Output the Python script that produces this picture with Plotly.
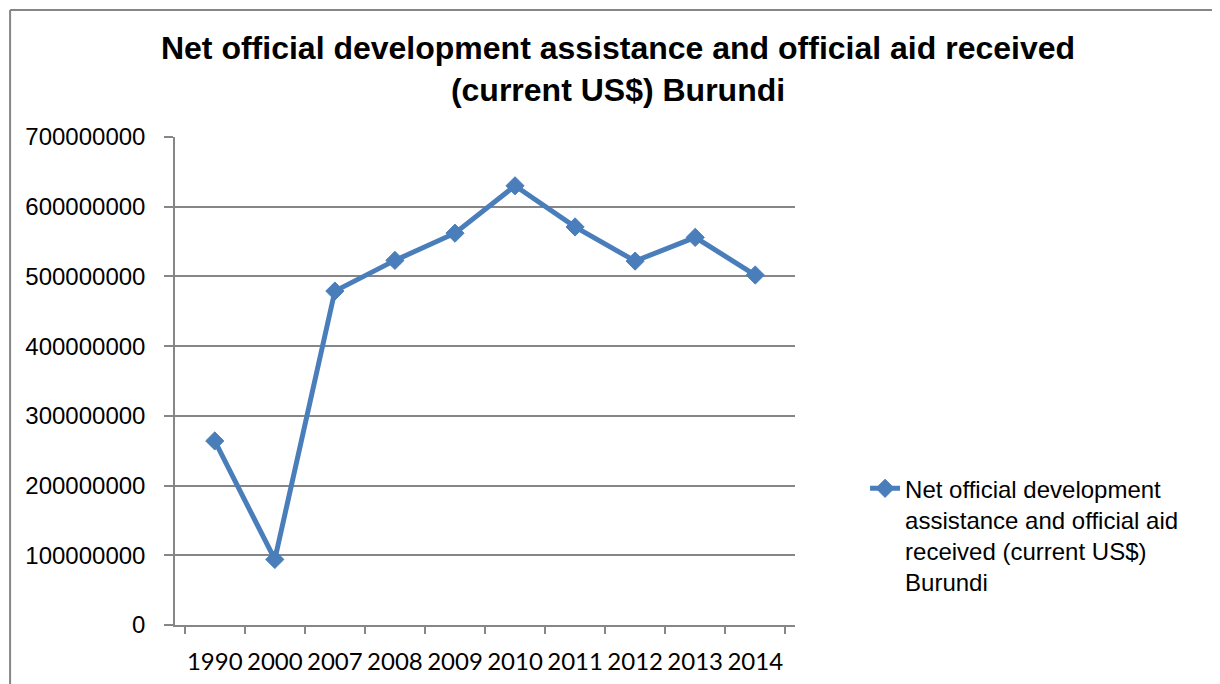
import plotly.graph_objects as go

years = ["1990", "2000", "2007", "2008", "2009", "2010", "2011", "2012", "2013", "2014"]
aid_usd = [264e6, 94e6, 479e6, 523e6, 562e6, 630e6, 571e6, 522e6, 556e6, 502e6]
series_name = "Net official development<br>assistance and official aid<br>received (current US$)<br>Burundi"
title_text = "<b>Net official development assistance and official aid received<br>(current US$) Burundi</b>"

BLUE = "#4A7EBB"
GREY = "#868686"

W, H = 1212, 676

fig = go.Figure()
fig.add_trace(go.Scatter(
    x=years, y=aid_usd, mode="lines+markers", name=series_name,
    line=dict(color=BLUE, width=5),
    marker=dict(symbol="diamond", size=14, color=BLUE, line=dict(color=BLUE, width=1)),
))

fig.update_layout(
    width=W, height=H,
    margin=dict(l=167, r=W - 787, t=129, b=H - 617, autoexpand=False),
    paper_bgcolor="white", plot_bgcolor="white",
    showlegend=True,
    title=dict(text=title_text, x=610/W, xanchor="center", xref="container",
               y=1 - 51/H, yanchor="top", yref="container",
               font=dict(family="Liberation Sans, Arial, sans-serif", size=32, color="black")),
    legend=dict(x=1.113, y=0.184, xanchor="left", yanchor="middle", valign="top",
                font=dict(family="Liberation Sans, Arial, sans-serif", size=24, color="black"),
                bgcolor="rgba(0,0,0,0)"),
    xaxis=dict(type="category", showline=True, linecolor=GREY, linewidth=1.5,
               ticks="outside", tickson="boundaries", ticklen=7, tickcolor=GREY, tickwidth=1.5,
               showgrid=False, tickangle=0, automargin=False, ticklabelstandoff=14,
               tickfont=dict(family="Lato, Open Sans, sans-serif", size=24, color="black")),
    yaxis=dict(range=[0, 7e8], dtick=1e8, tickformat="d", showline=True, linecolor=GREY,
               linewidth=1.5, ticks="outside", ticklen=9, tickcolor=GREY, tickwidth=1.5,
               showgrid=True, gridcolor=GREY, gridwidth=1.5, zeroline=False,
               ticklabelstandoff=14, automargin=False,
               tickfont=dict(family="Liberation Sans, Arial, sans-serif", size=24, color="black")),
    shapes=[
        dict(type="line", xref="paper", yref="paper", x0=-0.266, x1=1.75, y0=1.260, y1=1.260,
             line=dict(color=GREY, width=2)),
        dict(type="line", xref="paper", yref="paper", x0=-0.266, x1=-0.266, y0=1.260, y1=-0.15,
             line=dict(color=GREY, width=2)),
    ],
)

fig.write_html("out.html")
